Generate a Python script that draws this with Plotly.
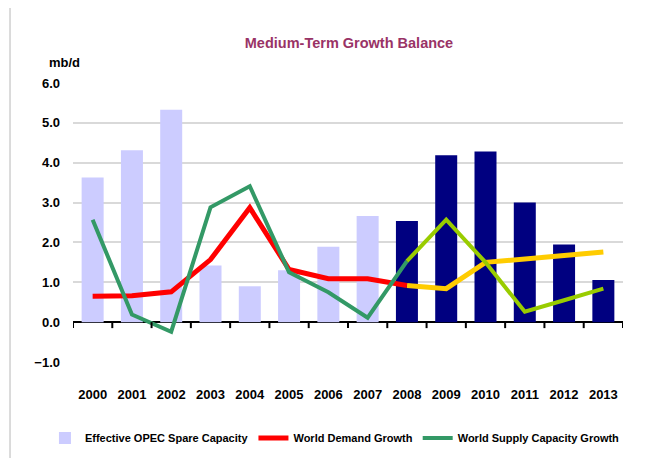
import plotly.graph_objects as go

years = ["2000", "2001", "2002", "2003", "2004", "2005", "2006",
         "2007", "2008", "2009", "2010", "2011", "2012", "2013"]

# effective OPEC spare capacity, history (2000-2007) and forecast (2008-2013)
spare_hist = [3.63, 4.31, 5.33, 1.42, 0.90, 1.30, 1.89, 2.66]
spare_fcst = [2.54, 4.19, 4.28, 3.00, 1.95, 1.06]

# world demand growth, history 2000-2008 and forecast 2008-2013
demand_hist = [0.65, 0.66, 0.76, 1.57, 2.87, 1.32, 1.09, 1.09, 0.92]
demand_fcst = [0.92, 0.84, 1.50, 1.57, 1.67, 1.76]

# world supply capacity growth, history 2000-2008 and forecast 2008-2013
supply_hist = [2.57, 0.19, -0.24, 2.88, 3.41, 1.25, 0.75, 0.11, 1.53]
supply_fcst = [1.53, 2.57, 1.50, 0.26, 0.55, 0.84]

y_ticks = [-1, 0, 1, 2, 3, 4, 5, 6]

FONT = "Liberation Sans, Arial, sans-serif"
colors = {
    "lilac": "#CCCCFF",
    "navy": "#000080",
    "red": "#FF0000",
    "yellow": "#FFCC00",
    "green": "#339966",
    "lime": "#99CC00",
    "title": "#993366",
    "grid": "#D9D9D9",
}

idx = list(range(len(years)))
n_hist = len(spare_hist)
x_spare_hist = idx[:n_hist]
x_spare_fcst = idx[n_hist:]
x_line_hist = idx[:len(demand_hist)]
x_line_fcst = idx[len(demand_hist) - 1:]

fig = go.Figure()
fig.add_trace(go.Bar(x=x_spare_hist, y=spare_hist, width=0.56,
                     marker=dict(color=colors["lilac"], line=dict(width=0)),
                     name="Effective OPEC Spare Capacity"))
fig.add_trace(go.Bar(x=x_spare_fcst, y=spare_fcst, width=0.56,
                     marker=dict(color=colors["navy"], line=dict(width=0)),
                     showlegend=False))
fig.add_trace(go.Scatter(x=x_line_fcst, y=demand_fcst, mode="lines",
                         line=dict(color=colors["yellow"], width=5),
                         showlegend=False))
fig.add_trace(go.Scatter(x=x_line_hist, y=demand_hist, mode="lines",
                         line=dict(color=colors["red"], width=5),
                         name="World Demand Growth"))
fig.add_trace(go.Scatter(x=x_line_hist, y=supply_hist, mode="lines",
                         line=dict(color=colors["green"], width=4),
                         name="World Supply Capacity Growth"))
fig.add_trace(go.Scatter(x=x_line_fcst, y=supply_fcst, mode="lines",
                         line=dict(color=colors["lime"], width=4),
                         showlegend=False))

# category tick marks hanging below the zero line
for b in range(len(years) + 1):
    fig.add_shape(type="line", x0=b - 0.5, x1=b - 0.5, y0=0, y1=-0.15,
                  line=dict(color="black", width=2), layer="above")

# light frame around the whole chart
fig.add_shape(type="rect", xref="paper", yref="paper",
              x0=-0.1145, x1=1.0527, y0=-0.45, y1=1.2724,
              line=dict(color="#D0D0D0", width=1.5))

fig.add_annotation(text="mb/d", xref="paper", yref="paper", x=-0.047, y=1.1075,
                   showarrow=False, font=dict(family=FONT, size=13, color="black", weight="bold"))

fig.update_layout(
    width=655, height=458,
    margin=dict(l=65, r=40, t=75, b=104, autoexpand=False),
    paper_bgcolor="white", plot_bgcolor="white",
    barmode="overlay",
    font=dict(family=FONT, size=13, color="black", weight="bold"),
    title=dict(text="Medium-Term Growth Balance", xref="container", yref="container",
               x=0.5206, y=0.9236, xanchor="center", yanchor="middle",
               font=dict(family=FONT, size=14.5, color=colors["title"], weight="bold")),
    xaxis=dict(tickmode="array", tickvals=idx, ticktext=years, range=[-0.5, len(years) - 0.5],
               showgrid=False, zeroline=False, showline=False, ticks="",
               ticklabelstandoff=23, tickfont=dict(size=13)),
    yaxis=dict(range=[-1, 6], tickvals=y_ticks, tickformat=".1f",
               gridcolor=colors["grid"], gridwidth=2,
               zeroline=True, zerolinecolor="black", zerolinewidth=2,
               showline=False, ticks="", ticklabelstandoff=12, tickfont=dict(size=13)),
    legend=dict(orientation="h", x=-0.051, xanchor="left", y=-0.272, yanchor="middle",
                font=dict(size=11), itemwidth=30, tracegroupgap=0,
                bgcolor="rgba(0,0,0,0)"),
)

fig.write_html("out.html")
